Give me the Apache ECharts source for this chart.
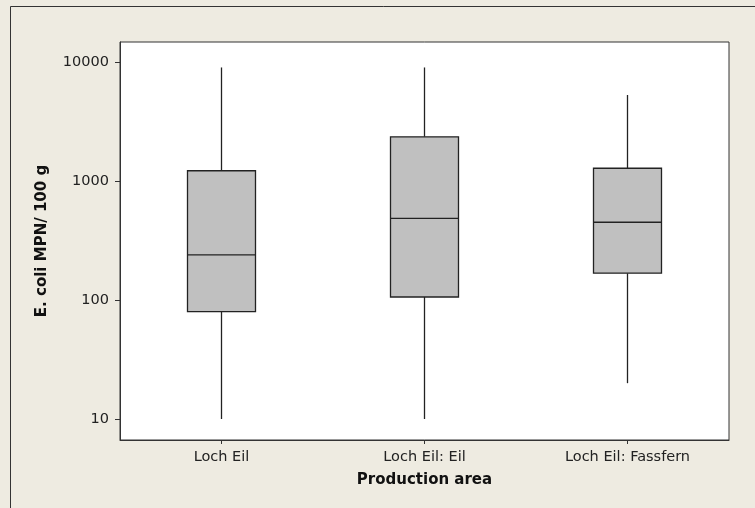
<!DOCTYPE html>
<html>
<head>
<meta charset="utf-8">
<title>E. coli by production area</title>
<script src="https://cdn.jsdelivr.net/npm/echarts@6/dist/echarts.min.js"></script>
<style>
  html, body { margin: 0; padding: 0; background: #eeebe1; }
  #chart { width: 755px; height: 508px; }
</style>
</head>
<body>
<div id="chart"></div>
<script>
// production areas
const areas = ['Loch Eil', 'Loch Eil: Eil', 'Loch Eil: Fassfern'];

// box stats per area (MPN / 100 g)
const whiskerLow = [10, 10, 20];
const q1 = [80, 106, 168];
const median = [239, 486, 450];
const q3 = [1220, 2350, 1280];
const whiskerHigh = [9000, 9000, 5280];

// y tick labels
const yTicks = [10, 100, 1000, 10000];

const chart = echarts.init(document.getElementById('chart'));

const boxData = areas.map((a, i) => [i, whiskerLow[i], q1[i], median[i], q3[i], whiskerHigh[i]]);

const labelFont = { fontFamily: 'DejaVu Sans', fontSize: 14.5, color: '#222' };
const nameFont = { fontFamily: 'DejaVu Sans', fontSize: 15, fontWeight: 'bold', color: '#111' };

// box without whisker caps (minitab style)
const renderBox = (params, api) => {
  const idx = api.value(0);
  const halfW = 34;
  const low = api.coord([idx, api.value(1)]);
  const pQ1 = api.coord([idx, api.value(2)]);
  const pMed = api.coord([idx, api.value(3)]);
  const pQ3 = api.coord([idx, api.value(4)]);
  const high = api.coord([idx, api.value(5)]);
  const x = low[0];
  const lineStyle = { stroke: '#222', lineWidth: 1.3 };
  return {
    type: 'group',
    children: [
      { type: 'line', shape: { x1: x, y1: high[1], x2: x, y2: pQ3[1] }, style: lineStyle },
      { type: 'line', shape: { x1: x, y1: pQ1[1], x2: x, y2: low[1] }, style: lineStyle },
      {
        type: 'rect',
        shape: { x: x - halfW, y: pQ3[1], width: halfW * 2, height: pQ1[1] - pQ3[1] },
        style: { fill: '#c0c0c0', stroke: '#222', lineWidth: 1.3 }
      },
      { type: 'line', shape: { x1: x - halfW, y1: pMed[1], x2: x + halfW, y2: pMed[1] }, style: lineStyle }
    ]
  };
};

chart.setOption({
  backgroundColor: '#eeebe1',
  animation: false,
  // outer frame (only left and top edges are visible)
  graphic: [{
    type: 'rect',
    shape: { x: 10.5, y: 6.5, width: 800, height: 600 },
    style: { fill: 'none', stroke: '#333', lineWidth: 1 },
    silent: true
  }],
  grid: {
    left: 120,
    top: 42,
    right: 26,
    bottom: 68,
    show: true,
    backgroundColor: '#fff',
    borderColor: '#333',
    borderWidth: 1
  },
  xAxis: {
    type: 'category',
    data: areas,
    name: 'Production area',
    nameLocation: 'middle',
    nameGap: 33,
    nameTextStyle: nameFont,
    axisLine: { show: true, lineStyle: { color: '#333' } },
    axisTick: { show: true, alignWithLabel: true, length: 4, lineStyle: { color: '#333' } },
    axisLabel: Object.assign({ margin: 10 }, labelFont),
    splitLine: { show: false }
  },
  yAxis: {
    type: 'log',
    logBase: 10,
    min: 6.66,
    max: 14730,
    name: 'E. coli MPN/ 100 g',
    nameLocation: 'middle',
    nameGap: 70,
    nameTextStyle: nameFont,
    axisLine: { show: true, lineStyle: { color: '#333' } },
    axisTick: { show: true, length: 5, customValues: yTicks, lineStyle: { color: '#333' } },
    axisLabel: Object.assign({ margin: 11, customValues: yTicks, formatter: v => String(Math.round(v)) }, labelFont),
    splitLine: { show: false },
    minorTick: { show: false }
  },
  series: [{
    type: 'custom',
    renderItem: renderBox,
    data: boxData,
    encode: { x: 0, y: [1, 2, 3, 4, 5] },
    clip: true
  }]
});
</script>
</body>
</html>
